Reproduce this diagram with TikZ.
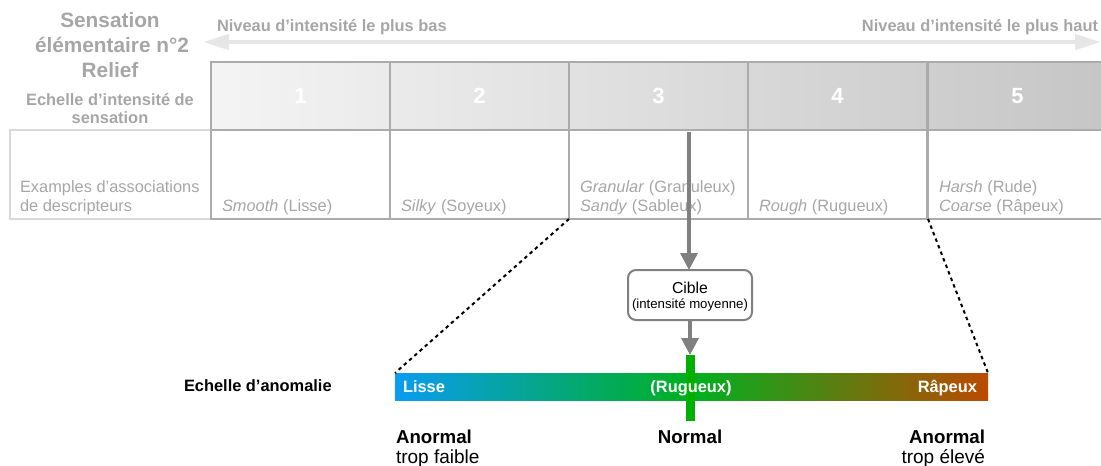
\documentclass[tikz,border=0pt]{standalone}
\usepackage{fontspec}
\setmainfont{Liberation Sans}
\usetikzlibrary{arrows.meta,calc}
\definecolor{tgray}{HTML}{A6A6A6}
\definecolor{bordgray}{HTML}{ABABAB}
\definecolor{lightbord}{HTML}{D9D9D9}
\definecolor{arrlight}{HTML}{E6E6E6}
\definecolor{darrow}{HTML}{808080}
\definecolor{cellL}{HTML}{F4F4F4}
\definecolor{cellR}{HTML}{C6C6C6}
\definecolor{barblue}{HTML}{0A9CF0}
\definecolor{bargreen}{HTML}{00B020}
\definecolor{barbrown}{HTML}{BB4A00}
\definecolor{tickgreen}{HTML}{00B000}
\tikzset{
  base/.style={inner sep=0pt, outer sep=0pt},
  titlefont/.style={font=\fontsize{20.8}{24}\selectfont\bfseries, text=tgray},
  graybold/.style={font=\fontsize{16.4}{19}\selectfont\bfseries, text=tgray},
  graytxt/.style={font=\fontsize{16.4}{19}\selectfont, text=tgray},
  topcell/.style={draw=bordgray, line width=1.5pt, minimum width=179pt, minimum height=68pt, anchor=north west, font=\fontsize{22}{26}\selectfont\bfseries, text=white},
  botcell/.style={draw=bordgray, line width=1.5pt, minimum width=179pt, minimum height=89pt, anchor=north west},
  labcell/.style={draw=lightbord, line width=1.5pt, minimum width=201pt, minimum height=89pt, anchor=north west},
  grayarrow/.style={draw=darrow, line width=3.5pt, -{Triangle[length=17pt,width=17pt]}},
  dotline/.style={draw=black, line width=2pt, dash pattern=on 3.5pt off 3.5pt},
  blackbold/.style={font=\fontsize{18.7}{22}\selectfont\bfseries, text=black},
  blacktxt/.style={font=\fontsize{19}{22}\selectfont, text=black},
  barlabel/.style={font=\fontsize{16.4}{19}\selectfont\bfseries, text=white},
}
\begin{document}
\begin{tikzpicture}[x=1pt,y=-1pt, every node/.style={base}]
\useasboundingbox (0,0) rectangle (1101,466);
% title
\node[titlefont, anchor=base] (t1) at (110,27) {Sensation};
\node[titlefont, anchor=base] (t2) at (112,52) {élémentaire n°2};
\node[titlefont, anchor=base] (t3) at (110,77) {Relief};
\node[graybold, anchor=base] (s1) at (110,105) {Echelle d’intensité de};
\node[graybold, anchor=base] (s2) at (110,123) {sensation};
% top arrow
\coordinate (aL) at (203,42);
\coordinate (aR) at (1101,42);
\draw[draw=arrlight, line width=4.5pt, {Triangle[length=26pt,width=15pt]}-{Triangle[length=26pt,width=15pt]}] (aL) -- (aR);
\node[graybold, anchor=base west] (nb) at (217,31) {Niveau d’intensité le plus bas};
\node[graybold, anchor=base east] (nh) at (1098,31) {Niveau d’intensité le plus haut};
% top row shading
\shade[left color=cellL, right color=cellR] (211,62) rectangle (1101,130);
% label cell
\node[labcell] (lab) at (10,130) {};
\node[graytxt, anchor=base west] (l1) at (20,192) {Examples d’associations};
\node[graytxt, anchor=base west] (l2) at (20,211) {de descripteurs};
% cells
\foreach \i/\x in {1/211,2/390,3/569,4/748,5/928}{
  \node[topcell] (c\i) at (\x,62) {\i};
  \node[botcell] (b\i) at (\x,130) {};
}
\node[graytxt, anchor=base west] (d1) at (222,211) {\textit{Smooth} (Lisse)};
\node[graytxt, anchor=base west] (d2) at (401,211) {\textit{Silky} (Soyeux)};
\node[graytxt, anchor=base west] (d3a) at (580,192) {\textit{Granular} (Granuleux)};
\node[graytxt, anchor=base west] (d3b) at (580,211) {\textit{Sandy} (Sableux)};
\node[graytxt, anchor=base west] (d4) at (759,211) {\textit{Rough} (Rugueux)};
\node[graytxt, anchor=base west] (d5a) at (939,192) {\textit{Harsh} (Rude)};
\node[graytxt, anchor=base west] (d5b) at (939,211) {\textit{Coarse} (Râpeux)};
% cible
\node[draw=darrow, line width=2pt, rounded corners=8pt, minimum width=124pt, minimum height=50pt] (cible) at (690,295) {};
\node[font=\fontsize{15.8}{16}\selectfont, anchor=base] (cib1) at (690,293) {Cible};
\node[font=\fontsize{13.2}{15}\selectfont, anchor=base] (cib2) at (690,308) {(intensité moyenne)};
\coordinate (arrTop) at (689,132);
\draw[grayarrow] (arrTop) -- (arrTop |- cible.north);
% anomaly bar
\node[anchor=north west, minimum width=593pt, minimum height=27pt, left color=barblue, right color=barbrown, middle color=bargreen] (bar) at (395,373) {};
\node[anchor=north, fill=tickgreen, minimum width=9pt, minimum height=66pt] (tick) at (690,355) {};
\draw[grayarrow] (cible.south -| tick.north) -- (tick.north);
\node[barlabel, anchor=base west] (bl) at (403,392) {Lisse};
\node[barlabel, anchor=base] (bm) at (691,392) {(Rugueux)};
\node[barlabel, anchor=base east] (br) at (977,392) {Râpeux};
\draw[dotline] (b3.south west) -- (bar.north west);
\draw[dotline] (b5.south west) -- (bar.north east);
\node[font=\fontsize{16.4}{19}\selectfont\bfseries, anchor=base west] (ea) at (184,391) {Echelle d’anomalie};
% bottom labels
\node[blackbold, anchor=base west] (a1) at (396,443) {Anormal};
\node[blacktxt, anchor=base west] (a2) at (396,463) {trop faible};
\node[blackbold, anchor=base] (nm) at (690,443) {Normal};
\node[blackbold, anchor=base east] (a3) at (985,443) {Anormal};
\node[blacktxt, anchor=base east] (a4) at (985,463) {trop élevé};
\end{tikzpicture}
\end{document}
